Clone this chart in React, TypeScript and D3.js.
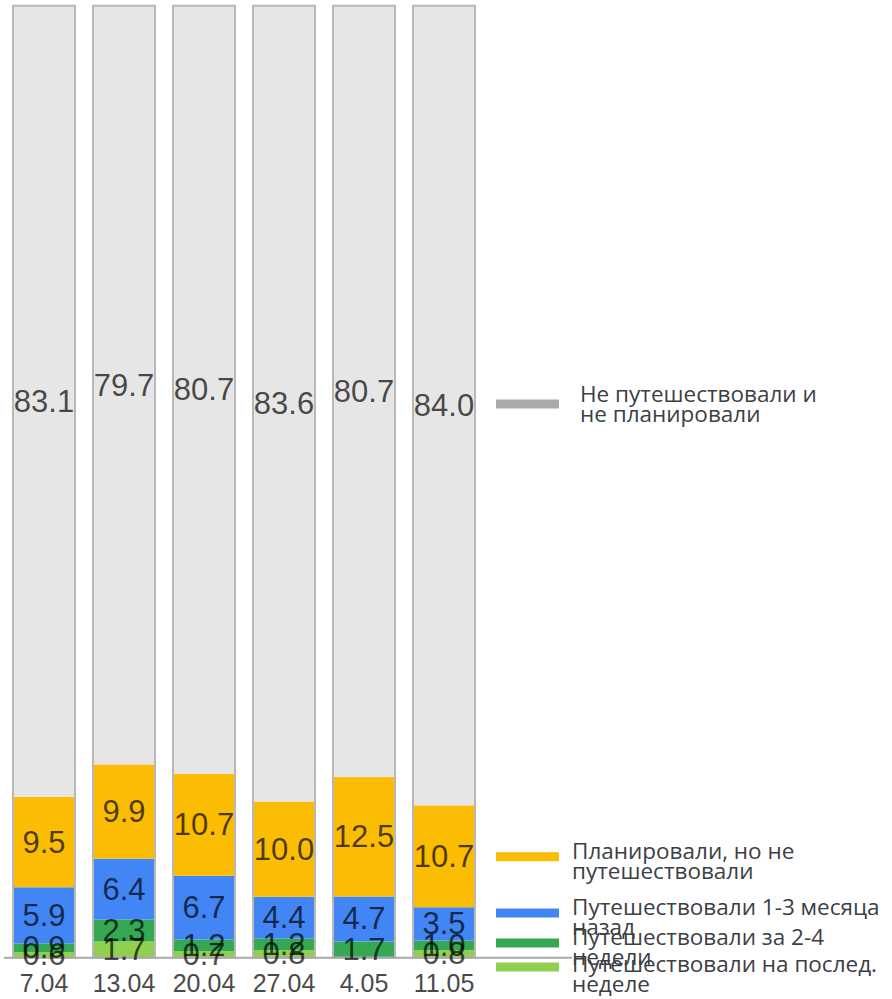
import React from "react";
import * as d3 from "d3";

const categories = ["7.04", "13.04", "20.04", "27.04", "4.05", "11.05"];
const notTraveled = [83.1, 79.7, 80.7, 83.6, 80.7, 84.0];
const plannedNot = [9.5, 9.9, 10.7, 10.0, 12.5, 10.7];
const months1to3 = [5.9, 6.4, 6.7, 4.4, 4.7, 3.5];
const weeks2to4 = [0.9, 2.3, 1.2, 1.2, 1.7, 1.0];
const lastWeek = [0.6, 1.7, 0.7, 0.8, 0, 0.8];

const W = 892;
const H = 999;

export default function App() {
  const series = [lastWeek, weeks2to4, months1to3, plannedNot, notTraveled];
  const colors = ["#8fd14f", "#34a853", "#4285f4", "#fbbc04", "#e6e6e6"];
  const legendColors = ["#8fd14f", "#34a853", "#4285f4", "#fbbc04", "#aaaaaa"];

  const x = d3
    .scaleBand<string>()
    .domain(categories)
    .range([4, 484])
    .paddingInner(0.225)
    .paddingOuter(0.1125);
  const y = d3.scaleLinear().domain([0, 1]).range([957.7, 5.7]);

  const bars = categories.map((c, i) => {
    const total = series.reduce((s, arr) => s + arr[i], 0);
    let cum = 0;
    const segs = series.map((arr, k) => {
      const v = arr[i];
      const y0 = cum / total;
      cum += v;
      const y1 = cum / total;
      return { k, v, y0, y1 };
    });
    return { c, segs };
  });

  const legendItems = [
    { k: 4, cy: 404, ty: 402, tx: 580, lines: ["Не путешествовали и", "не планировали"] },
    { k: 3, cy: 856.7, ty: 858.5, tx: 572, lines: ["Планировали, но не", "путешествовали"] },
    { k: 2, cy: 913, ty: 915, tx: 572, lines: ["Путешествовали 1-3 месяца", "назад"] },
    { k: 1, cy: 943, ty: 945, tx: 572, lines: ["Путешествовали за 2-4", "недели"] },
    { k: 0, cy: 967, ty: 972, tx: 572, lines: ["Путешествовали на послед.", "неделе"] },
  ];

  return (
    <svg
      width={W}
      height={H}
      style={{ position: "absolute", left: 0, top: 0, background: "#fff" }}
    >
      {bars.map((b) => {
        const bx = x(b.c)!;
        const bw = x.bandwidth();
        return (
          <g key={b.c}>
            {b.segs.map((s) =>
              s.v > 0 ? (
                <rect
                  key={s.k}
                  x={bx}
                  y={y(s.y1)}
                  width={bw}
                  height={y(s.y0) - y(s.y1)}
                  fill={colors[s.k]}
                />
              ) : null
            )}
            <rect
              x={bx}
              y={y(1)}
              width={bw}
              height={y(0) - y(1)}
              fill="none"
              stroke="#b8b8b8"
              strokeWidth={2}
            />
          </g>
        );
      })}
      <line x1={4} x2={572} y1={957.7} y2={957.7} stroke="#a8a8a8" strokeWidth={2} />
      {bars.map((b) => {
        const cx = x(b.c)! + x.bandwidth() / 2;
        return (
          <g key={"l" + b.c}>
            {b.segs.map((s) =>
              s.v > 0 ? (
                <text
                  key={s.k}
                  x={cx}
                  y={(y(s.y0) + y(s.y1)) / 2}
                  textAnchor="middle"
                  dominantBaseline="central"
                  fontFamily="'Liberation Sans', Arial, sans-serif"
                  fontSize={31}
                  fill="#000"
                  fillOpacity={0.7}
                >
                  {s.v.toFixed(1)}
                </text>
              ) : null
            )}
            <text
              x={cx}
              y={992}
              textAnchor="middle"
              fontFamily="'Liberation Sans', Arial, sans-serif"
              fontSize={25}
              fill="#4a4a4a"
            >
              {b.c}
            </text>
          </g>
        );
      })}
      {legendItems.map((it) => (
        <g key={"lg" + it.k}>
          <rect x={496} y={it.cy - 4.5} width={63} height={9} fill={legendColors[it.k]} />
          {it.lines.map((ln, j) => (
            <text
              key={j}
              x={it.tx}
              y={it.ty + j * 20}
              fontFamily="'Open Sans', Roboto, sans-serif"
              fontSize={22.5}
              fill="#3c4043"
            >
              {ln}
            </text>
          ))}
        </g>
      ))}
    </svg>
  );
}
